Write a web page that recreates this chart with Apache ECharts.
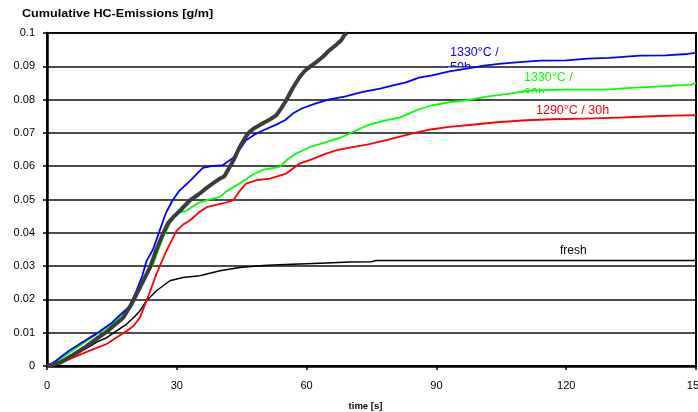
<!DOCTYPE html>
<html>
<head>
<meta charset="utf-8">
<script src="https://cdn.jsdelivr.net/npm/echarts@6/dist/echarts.min.js"></script>
<style>
  html, body { margin: 0; padding: 0; background: #fff; }
  #chart { width: 698px; height: 412px; }
</style>
</head>
<body>
<div id="chart"></div>
<script>
// Cumulative HC emissions over time for aged and fresh catalysts
const xTicks = [0, 30, 60, 90, 120, 150];
const yTicks = [0, 0.01, 0.02, 0.03, 0.04, 0.05, 0.06, 0.07, 0.08, 0.09, 0.1];

const aged1330_50hT = [0, 2, 5, 8, 11.5, 15, 17, 19, 20.5, 22, 23, 24.5, 26, 27.5, 29, 30.5, 33, 36, 38, 40.6, 43, 44.5, 46, 48, 50, 53, 55, 57, 59, 62, 65, 69, 73, 77, 80, 83, 86, 89, 93, 97, 101, 105, 110, 114, 120, 125, 130, 137, 143, 148, 150];
const aged1330_50hV = [0, 0.0015, 0.0045, 0.007, 0.0098, 0.013, 0.0155, 0.0178, 0.022, 0.027, 0.0315, 0.035, 0.0405, 0.046, 0.0497, 0.0525, 0.0555, 0.0595, 0.06, 0.0603, 0.0625, 0.065, 0.0678, 0.0695, 0.0708, 0.0725, 0.0738, 0.076, 0.0774, 0.0788, 0.08, 0.081, 0.0823, 0.0833, 0.0843, 0.0852, 0.0866, 0.0873, 0.0885, 0.0893, 0.0902, 0.0908, 0.0913, 0.0917, 0.0918, 0.0923, 0.0925, 0.0932, 0.0933, 0.0937, 0.094];

const aged1330_30hT = [0, 2, 5, 8, 11.5, 15, 17, 19, 21.5, 24.5, 26.8, 29.2, 30.5, 32.3, 35, 37, 40, 41.5, 44.5, 47.6, 50, 53.8, 55.5, 57.6, 60.7, 64, 68.3, 71, 74.5, 78, 81.5, 84, 86, 89, 93, 97, 102, 107, 112, 120, 129, 135, 140, 145, 149, 150];
const aged1330_30hV = [0, 0.001, 0.0038, 0.0065, 0.0095, 0.0125, 0.015, 0.0178, 0.0245, 0.0305, 0.0386, 0.0447, 0.046, 0.0467, 0.049, 0.0498, 0.0508, 0.0525, 0.0548, 0.0575, 0.059, 0.0598, 0.062, 0.0638, 0.0657, 0.067, 0.0688, 0.0705, 0.0725, 0.0737, 0.0746, 0.076, 0.0771, 0.0783, 0.0792, 0.0798, 0.081, 0.0818, 0.0828, 0.083, 0.083, 0.0835, 0.0838, 0.0842, 0.0845, 0.085];

const aged1290_30hT = [0, 3, 6, 10, 13.8, 16, 18.4, 20, 21.5, 23, 24, 25.3, 27.6, 29.9, 31.5, 33, 35, 36.9, 40.6, 43, 44.5, 46, 48.5, 51.5, 55.3, 58.4, 61, 64.5, 67, 70.6, 74, 78.4, 82, 86, 89, 93, 97, 104, 110.7, 117, 124.5, 132, 140, 145, 150];
const aged1290_30hV = [0, 0.0008, 0.0025, 0.0047, 0.0066, 0.0085, 0.0105, 0.012, 0.0146, 0.0196, 0.023, 0.0277, 0.0346, 0.0405, 0.0425, 0.0437, 0.046, 0.0477, 0.0488, 0.0497, 0.0525, 0.0548, 0.0558, 0.0563, 0.0578, 0.0608, 0.062, 0.0638, 0.0648, 0.0657, 0.0665, 0.0678, 0.069, 0.0703, 0.0711, 0.0718, 0.0723, 0.0732, 0.0738, 0.0741, 0.0743, 0.0746, 0.075, 0.0752, 0.0753];

const freshT = [0, 3, 6, 9, 11.5, 13.8, 16, 18.4, 20, 21.5, 23, 25.3, 28.4, 31.4, 35.3, 40, 44.5, 50, 55, 60, 66, 70, 75, 76, 90, 110, 130, 150];
const freshV = [0, 0.0012, 0.003, 0.0052, 0.0072, 0.0085, 0.0105, 0.0126, 0.0145, 0.0166, 0.0196, 0.0226, 0.0256, 0.0266, 0.0271, 0.0286, 0.0296, 0.0302, 0.0305, 0.0307, 0.031, 0.0312, 0.0313, 0.0317, 0.0317, 0.0317, 0.0317, 0.0317];

const heavyT = [0, 3, 6, 9, 11.5, 14, 17.6, 19.5, 21.5, 23.8, 25.3, 26.8, 28, 29.2, 31, 33, 35, 36.9, 38.5, 40, 41, 42.2, 43.2, 44.5, 46, 46.8, 48, 49.8, 51.5, 53, 54.2, 55.3, 56.8, 58.4, 59.5, 60.7, 62, 63.7, 65, 66.8, 68, 68.8, 69.3];
const heavyV = [0, 0.001, 0.0033, 0.0058, 0.0082, 0.0105, 0.0145, 0.0185, 0.0236, 0.0296, 0.035, 0.0397, 0.043, 0.0447, 0.047, 0.0497, 0.0515, 0.0535, 0.055, 0.0563, 0.057, 0.0597, 0.062, 0.0657, 0.069, 0.0703, 0.0715, 0.0728, 0.074, 0.0753, 0.0775, 0.0798, 0.0835, 0.0868, 0.0885, 0.0898, 0.091, 0.0928, 0.0945, 0.0964, 0.0978, 0.0995, 0.1];

const FONT = 'Liberation Sans, Arial, sans-serif';

function pairs(ts, vs) {
  return ts.map((t, i) => [t, vs[i]]);
}

function lineSeries(name, ts, vs, color, width) {
  return {
    name: name,
    type: 'line',
    data: pairs(ts, vs),
    showSymbol: false,
    symbol: 'none',
    clip: true,
    z: 3,
    lineStyle: { color: color, width: width, join: 'round' },
    itemStyle: { color: color },
    animation: false
  };
}

function label(text, left, top, color, size, z) {
  return {
    type: 'text', left: left, top: top, z: z || 10, silent: true,
    style: { text: text, fontFamily: FONT, fontSize: size || 12.5, fill: color }
  };
}

// white strip that hides the lower part of a clipped two-line label box
function mask(left, top, width, height) {
  return {
    type: 'rect', left: left, top: top, z: 2, silent: true,
    shape: { width: width, height: height },
    style: { fill: '#fff' }
  };
}

const chart = echarts.init(document.getElementById('chart'), null, { renderer: 'canvas' });

chart.setOption({
  animation: false,
  backgroundColor: '#fff',
  grid: {
    left: 47,
    right: 2,
    top: 33,
    bottom: 46,
    containLabel: false,
    outerBoundsMode: 'none',
    show: true,
    borderColor: '#000',
    borderWidth: 2,
    backgroundColor: 'transparent'
  },
  xAxis: {
    type: 'value',
    min: xTicks[0],
    max: xTicks[xTicks.length - 1],
    interval: 30,
    name: 'time [s]',
    nameLocation: 'middle',
    nameGap: 35,
    nameTextStyle: { fontFamily: FONT, fontSize: 9.5, fontWeight: 'bold', color: '#000', padding: [0, 12, 0, 0] },
    axisLine: { show: true, lineStyle: { color: '#000', width: 2.5 } },
    axisTick: { show: true, length: 4, lineStyle: { color: '#000', width: 1.5 } },
    axisLabel: { fontFamily: FONT, fontSize: 11, color: '#000', margin: 14 },
    splitLine: { show: false }
  },
  yAxis: {
    type: 'value',
    min: yTicks[0],
    max: yTicks[yTicks.length - 1],
    interval: 0.01,
    axisLine: { show: true, lineStyle: { color: '#000', width: 2.5 } },
    axisTick: { show: true, length: 4, lineStyle: { color: '#000', width: 1.5 } },
    axisLabel: {
      fontFamily: FONT, fontSize: 11, color: '#000', margin: 12,
      formatter: v => String(+v.toFixed(2))
    },
    splitLine: { show: true, lineStyle: { color: '#111', width: 1.6 } }
  },
  series: [
    lineSeries('fresh', freshT, freshV, '#000000', 1.5),
    lineSeries('1290°C / 30h', aged1290_30hT, aged1290_30hV, '#ff0000', 1.8),
    lineSeries('1330°C / 30h', aged1330_30hT, aged1330_30hV, '#00ff00', 1.8),
    lineSeries('1330°C / 50h', aged1330_50hT, aged1330_50hV, '#0000ff', 1.8),
    lineSeries('heavy', heavyT, heavyV, '#3c3c3c', 4)
  ],
  graphic: [
    {
      type: 'text', left: 22, top: 9, scaleX: 1.2, silent: true,
      style: { text: 'Cumulative HC-Emissions [g/m]', fontFamily: FONT, fontSize: 10.5, fontWeight: 'bold', fill: '#000' }
    },
    label('1330°C /', 450, 46, '#0000ff'),
    label('50h', 450, 61, '#0000ff', 12.5, 1),
    mask(448, 67.6, 30, 9),
    label('1330°C /', 524, 71, '#00ff00'),
    label('30h', 524, 87, '#00ff00', 12.5, 1),
    mask(522, 93.2, 30, 5.6),
    label('1290°C / 30h', 536, 104.5, '#ff0000'),
    label('fresh', 560, 244.5, '#000', 12)
  ]
});
</script>
</body>
</html>
